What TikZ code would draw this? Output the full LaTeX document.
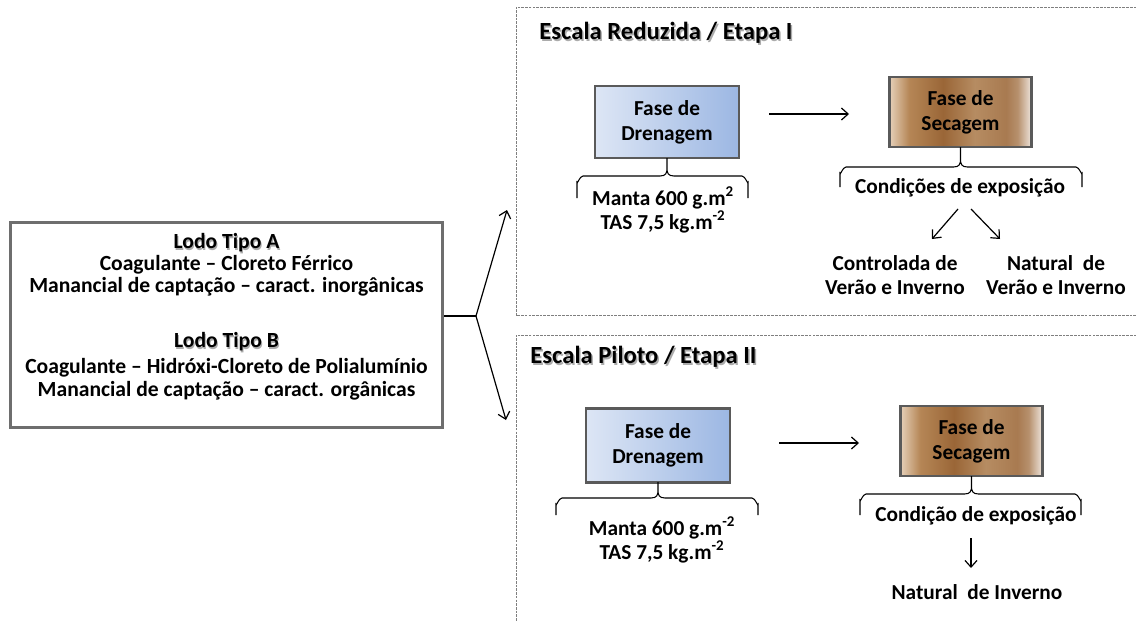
\documentclass[tikz,border=0pt]{standalone}
\usepackage{fontspec}
\setmainfont{Carlito}
\usetikzlibrary{arrows.meta}

\definecolor{boxline}{HTML}{5A5A5A}
\definecolor{srcline}{HTML}{6E6E6E}
\definecolor{dashgray}{HTML}{7F7F7F}
\definecolor{blueL}{HTML}{DDE6F5}
\definecolor{blueR}{HTML}{9CB7E3}
\definecolor{secA}{HTML}{E6D1BA}
\definecolor{secB}{HTML}{B58656}
\definecolor{secC}{HTML}{9A6637}
\definecolor{secD}{HTML}{B68C62}
\definecolor{secE}{HTML}{A87A50}
\definecolor{secF}{HTML}{EFE7DF}

% brass-like horizontal shading for the drying boxes
\pgfdeclarehorizontalshading{secshade}{100bp}{%
  color(0bp)=(secA); color(25bp)=(secA); color(32bp)=(secB);
  color(44bp)=(secC); color(55bp)=(secD); color(66bp)=(secE);
  color(70bp)=(secE!80!secF); color(75bp)=(secF); color(100bp)=(secF)}

\tikzset{
  phase/.style={draw=boxline, line width=2.2pt, align=center,
    font=\fontsize{16}{18.75}\selectfont\bfseries, inner sep=0pt},
  drenbox/.style={phase, left color=blueL, right color=blueR,
    minimum width=108pt, minimum height=54pt},
  secbox/.style={phase, shading=secshade,
    minimum width=107pt, minimum height=52.5pt},
  srcbox/.style={draw=srcline, line width=2.6pt,
    minimum width=324pt, minimum height=154pt},
  txt/.style={font=\fontsize{16}{18}\selectfont\bfseries, align=center, inner sep=0pt},
  srctxt/.style={font=\fontsize{16.2}{17}\selectfont\bfseries, inner sep=0pt},
  ttl/.style={font=\fontsize{18.5}{20}\selectfont\bfseries, inner sep=0pt, anchor=west},
  glow/.style={text=black!33},
  arr/.style={line width=0.9pt, -{Straight Barb[length=5pt,width=9pt]}},
  brc/.style={line width=0.8pt},
  stage/.style={draw=dashgray, line width=0.6pt, dash pattern=on 2pt off 0.8pt},
}

% curly brace: x-left, x-right, x-middle, y of bar, y of cusp, y of tails
\newcommand{\curlybrace}[6]{%
  \draw[brc] (#1,#6) -- (#1,{#4+6}) to[out=270,in=180] ({#1+6},#4)
    -- ({#3-7},#4) .. controls ({#3-1},#4) and (#3,{#4-3}) .. (#3,{#4-8})
    -- (#3,#5) -- (#3,{#4-8})
    .. controls (#3,{#4-3}) and ({#3+1},#4) .. ({#3+7},#4)
    -- ({#2-6},#4) to[out=0,in=270] (#2,{#4+6}) -- (#2,#6);}

\begin{document}
\begin{tikzpicture}[x=0.75pt,y=-0.75pt]
\useasboundingbox (0,0) rectangle (1136,621);

% dashed frames of the two stages
\draw[stage] (1140,7) -- (516,7) -- (516,315) -- (1140,315);
\draw[stage] (1140,335) -- (516,335) -- (516,625);

% stage titles with soft shadow
\node[ttl,glow] at (540.5,35) {Escala Reduzida / Etapa I};
\node[ttl] (t1) at (539,33) {Escala Reduzida / Etapa I};
\node[ttl,glow] at (531.5,359) {Escala Piloto / Etapa II};
\node[ttl] (t2) at (530,357) {Escala Piloto / Etapa II};

% source sludge description
\node[srcbox] (src) at (226.5,325) {};
\node[srctxt,glow] at (227.5,244.5) {Lodo Tipo A};
\node[srctxt] (la) at (226.5,243) {Lodo Tipo A};
\node[srctxt] (la1) at (226.5,265) {Coagulante – Cloreto Férrico};
\node[srctxt] (la2) at (226.5,287) {Manancial de captação – caract. inorgânicas};
\node[srctxt,glow] at (227.5,343.5) {Lodo Tipo B};
\node[srctxt] (lb) at (226.5,342) {Lodo Tipo B};
\node[srctxt] (lb1) at (226.5,368) {Coagulante – Hidróxi-Cloreto de Polialumínio};
\node[srctxt] (lb2) at (226.5,391) {Manancial de captação – caract. orgânicas};

% fork towards the two stages
\coordinate (fork) at (476,316);
\coordinate (up) at (507,210);
\coordinate (down) at (506,420);
\draw[line width=1.4pt] (src.east |- fork) -- (fork);
\draw[arr] (fork) -- (up);
\draw[arr] (fork) -- (down);

% ---- stage I
\node[drenbox] (dren1) at (667,122) {Fase de\\Drenagem};
\node[secbox] (sec1) at (960.5,112) {Fase de\\Secagem};
\coordinate (a1s) at (769,114);
\coordinate (a1e) at (849,114);
\draw[arr] (a1s) -- (a1e);

\curlybrace{577}{748}{667}{176}{158}{198}
\node[txt] (m1) at (663,210) {Manta 600 g.m\textsuperscript{2}\\TAS 7,5 kg.m\textsuperscript{-2}};

\curlybrace{840}{1082}{960.5}{167}{147}{187}
\node[txt] (c1) at (960,188) {Condições de exposição};
\node[txt] (ctrl) at (895,275) {Controlada de\\Verão e Inverno};
\node[txt] (nat1) at (1056,275) {Natural\ \ de\\Verão e Inverno};
\draw[arr] ([xshift=-1.5pt,yshift=-15.75pt]c1.center) -- ([xshift=27.75pt,yshift=27pt]ctrl.center);
\draw[arr] ([xshift=8.25pt,yshift=-15.75pt]c1.center) -- ([xshift=-42pt,yshift=27pt]nat1.center);

% ---- stage II
\node[drenbox,minimum height=55pt] (dren2) at (658,445.5) {Fase de\\Drenagem};
\node[secbox] (sec2) at (971.5,441) {Fase de\\Secagem};
\coordinate (a2s) at (779,443);
\coordinate (a2e) at (859,443);
\draw[arr] (a2s) -- (a2e);

\curlybrace{556}{758}{658}{498}{482}{515}
\node[txt] (m2) at (662,540) {Manta 600 g.m\textsuperscript{-2}\\TAS 7,5 kg.m\textsuperscript{-2}};

\curlybrace{860}{1081}{971.5}{494}{476}{515}
\node[txt] (c2) at (976,516) {Condição de exposição};
\node[txt] (nat2) at (977,592) {Natural\ \ de Inverno};
\draw[arr] ([xshift=-3.75pt,yshift=-16.5pt]c2.center) -- ([xshift=-4.5pt,yshift=18pt]nat2.center);
\end{tikzpicture}
\end{document}
